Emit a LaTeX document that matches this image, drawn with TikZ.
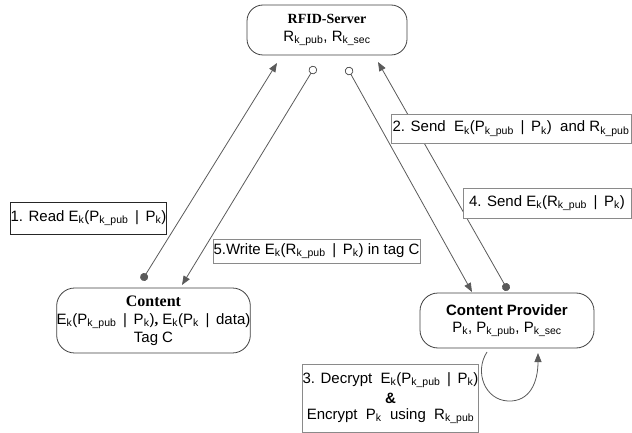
\documentclass[tikz,border=0pt]{standalone}
\usepackage{fontspec}
\setmainfont{Liberation Sans}
\newfontfamily\serifbf{Liberation Serif}
\usetikzlibrary{arrows.meta}
\newcommand{\sbs}[1]{\textsubscript{#1}}
\definecolor{linegray}{HTML}{5A5A5A}
\definecolor{boxgray}{HTML}{404040}
\definecolor{lblgray}{HTML}{8A8A8A}
\begin{document}
\begin{tikzpicture}[x=1pt,y=-1pt,
  font=\fontsize{15}{17}\selectfont,
  bigbox/.style={draw=boxgray, line width=0.8pt, rounded corners=16pt, fill=white, inner sep=0pt, align=center},
  lbl/.style={draw=lblgray, line width=0.9pt, fill=white, inner sep=0pt, align=center},
  conn/.style={draw=linegray, line width=0.8pt},
  tipend/.style={-{Triangle[length=9pt,width=7pt,fill=linegray]}},
  dotstart/.style={{Circle[length=8pt,fill=linegray]}-{Triangle[length=9pt,width=7pt,fill=linegray]}},
  ringstart/.style={{Circle[open,length=8.5pt,fill=white]}-{Triangle[length=9pt,width=7pt,fill=linegray]}}
]
\useasboundingbox (0,0) rectangle (632,433);

% main boxes
\node[bigbox, minimum width=160pt, minimum height=50pt] (server) at (327,30)
  {{\serifbf\bfseries\fontsize{14}{16}\selectfont RFID-Server}\\[1pt]
   R\sbs{k\_pub}, R\sbs{k\_sec}};
\node[bigbox, minimum width=193pt, minimum height=65pt, rounded corners=18pt] (content) at (153.5,320.5)
  {{\serifbf\bfseries\fontsize{16}{18}\selectfont Content}\\[1pt]
   E\sbs{k}(P\sbs{k\_pub} \,|\, P\sbs{k}){\serifbf\bfseries ,} E\sbs{k}(P\sbs{k} \,|\, data)\\[1pt]
   Tag C};
\node[bigbox, minimum width=174pt, minimum height=55pt, rounded corners=18pt] (provider) at (507,320.5)
  {{\bfseries Content Provider}\\[0pt]
   P\sbs{k}, P\sbs{k\_pub}, P\sbs{k\_sec}};

% connector end points
\coordinate (c1) at (142.0,280.4);
\coordinate (s1) at (277,63);
\coordinate (s5) at (315.1,66.4);
\coordinate (c5) at (182,285);
\coordinate (s2) at (347.0,67.3);
\coordinate (p2) at (472,292);
\coordinate (p4) at (508.0,290.5);
\coordinate (s4) at (378,62);
\coordinate (l1) at (487,352);
\coordinate (l2) at (538,353);

\draw[conn, dotstart] (c1) -- (s1);
\draw[conn, ringstart] (s5) -- (c5);
\draw[conn, ringstart] (s2) -- (p2);
\draw[conn, dotstart] (p4) -- (s4);
\draw[conn, tipend] (l1) .. controls (474,372) and (485,400) .. (508,401)
  .. controls (530,402) and (538,382) .. (l2);

% labels
\node[lbl, draw=black!85, minimum width=151pt, minimum height=32pt] (lab1) at (88.5,218)
  {1. Read E\sbs{k}(P\sbs{k\_pub} \,|\, P\sbs{k})};
\node[lbl, minimum width=240pt, minimum height=29pt] (lab2) at (511,128.5)
  {2. Send\ \ E\sbs{k}(P\sbs{k\_pub} \,|\, P\sbs{k})\ \ and R\sbs{k\_pub}};
\node[lbl, minimum width=168pt, minimum height=30pt] (lab4) at (547,203)
  {4. Send E\sbs{k}(R\sbs{k\_pub} \,|\, P\sbs{k})};
\node[lbl, minimum width=207pt, minimum height=24pt] (lab5) at (316.5,251)
  {5.Write E\sbs{k}(R\sbs{k\_pub} \,|\, P\sbs{k}) in tag C};
\node[lbl, minimum width=173pt, minimum height=68pt] (lab3) at (390.5,398)
  {3. Decrypt\ \ E\sbs{k}(P\sbs{k\_pub} \,|\, P\sbs{k})\\[3pt]
   {\bfseries\&}\\[-1pt]
   Encrypt\ \ P\sbs{k}\ \ using\ \ R\sbs{k\_pub}};
\end{tikzpicture}
\end{document}
